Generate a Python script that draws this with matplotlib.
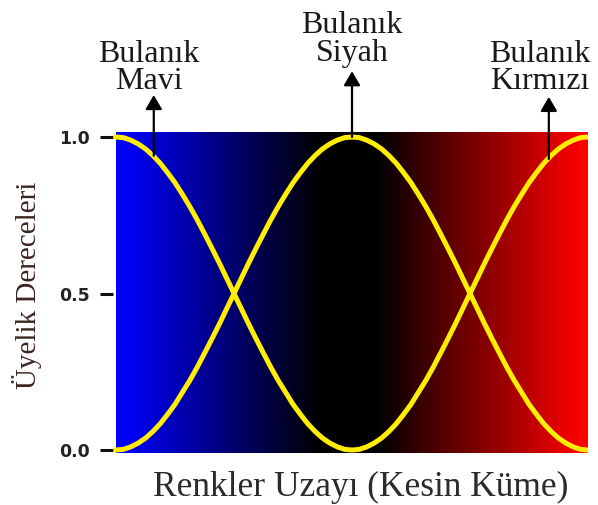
import numpy as np
import matplotlib
matplotlib.use("Agg")
import matplotlib.pyplot as plt
from matplotlib.colors import LinearSegmentedColormap

# Renk uzayi ekseni (0 = mavi, 0.5 = siyah, 1 = kirmizi), 1/64 adimla
renk_x = [i / 64 for i in range(65)]

# Bulanik mavi (sol) ve bulanik kirmizi (sag) uyelik dereceleri
mavi_kirmizi = [1.000, 0.998, 0.990, 0.978, 0.962, 0.941, 0.916, 0.886,
                0.854, 0.817, 0.778, 0.736, 0.691, 0.645, 0.598, 0.549,
                0.500, 0.451, 0.402, 0.355, 0.309, 0.264, 0.222, 0.184,
                0.146, 0.114, 0.084, 0.059, 0.038, 0.022, 0.010, 0.002,
                0.000, 0.002, 0.010, 0.022, 0.038, 0.059, 0.084, 0.114,
                0.146, 0.184, 0.222, 0.264, 0.309, 0.355, 0.402, 0.451,
                0.500, 0.549, 0.598, 0.645, 0.691, 0.736, 0.778, 0.817,
                0.854, 0.886, 0.916, 0.941, 0.962, 0.978, 0.990, 0.998, 1.000]

# Bulanik siyah uyelik dereceleri
siyah = [0.000, 0.002, 0.010, 0.022, 0.038, 0.059, 0.084, 0.114,
         0.146, 0.184, 0.222, 0.264, 0.309, 0.355, 0.402, 0.451,
         0.500, 0.549, 0.598, 0.645, 0.691, 0.736, 0.778, 0.817,
         0.854, 0.886, 0.916, 0.941, 0.962, 0.978, 0.990, 0.998,
         1.000, 0.998, 0.990, 0.978, 0.962, 0.941, 0.916, 0.886,
         0.854, 0.817, 0.778, 0.736, 0.691, 0.645, 0.598, 0.549,
         0.500, 0.451, 0.402, 0.355, 0.309, 0.264, 0.222, 0.184,
         0.146, 0.114, 0.084, 0.059, 0.038, 0.022, 0.010, 0.002, 0.000]

y_ticks = [0.0, 0.5, 1.0]
y_tick_labels = ["0.0", "0.5", "1.0"]

# Etiketler: (metin, metin x, metin y, ok ucu y, egri noktasi x, egri noktasi y)
etiketler = [
    ("Bulanık\nMavi", 0.07, 1.130, 1.134, 0.08, 0.94),
    ("Bulanık\nSiyah", 0.50, 1.222, 1.210, 0.50, 1.00),
    ("Bulanık\nKırmızı", 0.898, 1.130, 1.128, 0.917, 0.93),
]

fig = plt.figure(figsize=(5.98, 5.05), dpi=100)
ax = fig.add_axes([113 / 598, 52 / 505, 475 / 598, 321 / 505])

# Mavi -> siyah -> kirmizi serit gecisli arka plan
cmap = LinearSegmentedColormap.from_list(
    "renkler", [(0.0, "#0000ff"), (0.43, "#000000"), (0.55, "#000000"), (1.0, "#ff0000")], N=48)
ax.imshow(np.linspace(0, 1, 48)[None, :], cmap=cmap, aspect="auto",
          extent=[0, 1, -0.0096, 1.016], interpolation="nearest", zorder=0)

ax.plot(renk_x, mavi_kirmizi, color="#ffee00", lw=3.6, solid_joinstyle="round", zorder=2)
ax.plot(renk_x, siyah, color="#ffee00", lw=3.6, solid_joinstyle="round", zorder=2)

ax.set_xlim(-0.0064, 1)
ax.set_ylim(-0.0096, 1.016)
for s in ax.spines.values():
    s.set_visible(False)
ax.set_xticks([])
ax.set_yticks(y_ticks)
ax.set_yticklabels(y_tick_labels, fontfamily="DejaVu Sans", fontweight="bold",
                   fontsize=12.5, color="#222222")
ax.tick_params(axis="y", length=9.4, width=2.2, pad=7, color="#111111")

for metin, tx, ty, uc_y, ex, ey in etiketler:
    ax.annotate("", xy=(ex, uc_y), xytext=(ex, ey), annotation_clip=False,
                arrowprops=dict(arrowstyle="-|>,head_length=0.85,head_width=0.5",
                                mutation_scale=10, color="black", lw=1.6,
                                shrinkA=0, shrinkB=0))
    ax.text(tx, ty, metin, ha="center", va="bottom", fontsize=23, linespacing=0.92,
            fontfamily="Liberation Serif", color="#1a1a1a", clip_on=False)

fig.text(27 / 598, 1 - 285 / 505, "Üyelik Dereceleri", rotation=90, ha="center",
         va="center", fontsize=21, fontfamily="Liberation Serif", color="#3b2520")
fig.text(361 / 598, 1 - 487 / 505, "Renkler Uzayı (Kesin Küme)", ha="center",
         va="center", fontsize=25.5, fontfamily="Liberation Serif", color="#2e2a2a")

fig.savefig("out.png", dpi=100)
